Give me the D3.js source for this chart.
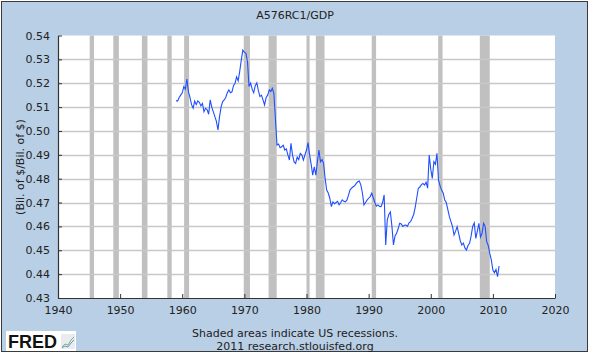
<!DOCTYPE html>
<html><head><meta charset="utf-8">
<script src="https://cdn.jsdelivr.net/npm/d3@7"></script>
<style>html,body{margin:0;padding:0;background:#fff;}svg{display:block;font-family:"DejaVu Sans",Verdana,sans-serif;}</style>
</head><body>
<svg id="c" width="590" height="357"></svg>
<script>
const title = "A576RC1/GDP";
const yLabel = "(Bil. of $/Bil. of $)";
const yTicks = [0.43,0.44,0.45,0.46,0.47,0.48,0.49,0.50,0.51,0.52,0.53,0.54];
const xTicks = [1940,1950,1960,1970,1980,1990,2000,2010,2020];
const recessions = [[1945.1,1945.8],[1948.9,1949.8],[1953.5,1954.4],[1957.6,1958.3],[1960.3,1961.1],[1969.9,1970.9],[1973.9,1975.2],[1980.0,1980.5],[1981.5,1982.9],[1990.5,1991.2],[2001.2,2001.9],[2007.9,2009.5]];
const startYear = 1959;
const values = [
0.5127,0.5125,0.5140,0.5150,
0.5160,0.5186,0.5175,0.5217,
0.5164,0.5140,0.5110,0.5095,
0.5125,0.5110,0.5126,0.5120,
0.5105,0.5115,0.5081,0.5095,
0.5090,0.5070,0.5130,0.5100,
0.5080,0.5060,0.5040,0.5004,
0.5060,0.5100,0.5123,0.5130,
0.5140,0.5160,0.5172,0.5160,
0.5164,0.5190,0.5200,0.5227,
0.5210,0.5250,0.5297,0.5339,
0.5330,0.5325,0.5290,0.5186,
0.5200,0.5175,0.5160,0.5190,
0.5202,0.5170,0.5144,0.5150,
0.5130,0.5109,0.5140,0.5150,
0.5172,0.5165,0.5179,0.5158,
0.5050,0.4941,0.4945,0.4930,
0.4934,0.4940,0.4920,0.4925,
0.4900,0.4878,0.4948,0.4900,
0.4870,0.4864,0.4890,0.4880,
0.4906,0.4899,0.4878,0.4900,
0.4920,0.4951,0.4900,0.4860,
0.4815,0.4850,0.4815,0.4870,
0.4920,0.4871,0.4880,0.4864,
0.4800,0.4752,0.4740,0.4718,
0.4683,0.4703,0.4695,0.4700,
0.4705,0.4690,0.4700,0.4711,
0.4705,0.4703,0.4710,0.4730,
0.4752,0.4760,0.4766,0.4770,
0.4780,0.4787,0.4790,0.4773,
0.4740,0.4690,0.4700,0.4710,
0.4718,0.4725,0.4739,0.4720,
0.4700,0.4685,0.4690,0.4684,
0.4683,0.4700,0.4732,0.4522,
0.4627,0.4650,0.4661,0.4600,
0.4522,0.4560,0.4571,0.4590,
0.4613,0.4610,0.4600,0.4605,
0.4606,0.4600,0.4615,0.4620,
0.4634,0.4650,0.4680,0.4720,
0.4760,0.4765,0.4775,0.4780,
0.4773,0.4785,0.4760,0.4899,
0.4840,0.4801,0.4871,0.4860,
0.4906,0.4794,0.4770,0.4752,
0.4740,0.4711,0.4700,0.4670,
0.4641,0.4620,0.4600,0.4564,
0.4580,0.4599,0.4570,0.4540,
0.4522,0.4530,0.4510,0.4501,
0.4520,0.4529,0.4560,0.4600,
0.4615,0.4550,0.4580,0.4613,
0.4555,0.4570,0.4613,0.4600,
0.4536,0.4520,0.4487,0.4460,
0.4417,0.4406,0.4420,0.4389,
0.4434
];
const data = values.map((v,i)=>({t:startYear+i/4, v}));

const svg = d3.select("#c");
const W=590,H=357;
svg.append("rect").attr("x",1.5).attr("y",1.5).attr("width",586).attr("height",350)
  .attr("fill","#b9cfe6").attr("stroke","#3a3a3a").attr("stroke-width",1);

const L=58,R=555,T=35.5,B=298;
const x = d3.scaleLinear().domain([1940,2020]).range([L,R]);
const y = d3.scaleLinear().domain([0.43,0.54]).range([B,T]);

svg.append("rect").attr("x",L).attr("y",T).attr("width",R-L).attr("height",B-T).attr("fill","#fff");

// recessions
svg.append("g").selectAll("rect").data(recessions).join("rect")
  .attr("x",d=>x(d[0])).attr("y",T).attr("width",d=>x(d[1])-x(d[0])).attr("height",B-T)
  .attr("fill","#c0c0c0");

// grid
svg.append("g").selectAll("line").data(yTicks.slice(1,-1)).join("line")
  .attr("x1",L).attr("x2",R).attr("y1",d=>Math.round(y(d))+0.5).attr("y2",d=>Math.round(y(d))+0.5)
  .attr("stroke","#c8c8c8").attr("stroke-width",1.5);

// line
svg.append("path").datum(data)
  .attr("d",d3.line().x(d=>x(d.t)).y(d=>y(d.v)))
  .attr("fill","none").attr("stroke","#1f4fff").attr("stroke-width",1.1);

// axes
const yAxis = svg.append("g").attr("transform",`translate(${L},0)`)
  .call(d3.axisLeft(y).tickValues(yTicks).tickFormat(d3.format(".2f")).tickSizeInner(-4).tickSizeOuter(0).tickPadding(8));
const xAxis = svg.append("g").attr("transform",`translate(0,${B})`)
  .call(d3.axisBottom(x).tickValues(xTicks).tickFormat(d3.format("d")).tickSizeInner(-4).tickSizeOuter(0).tickPadding(8));
[yAxis,xAxis].forEach(g=>{
  g.select(".domain").attr("stroke","#333").attr("stroke-width",1.2);
  g.selectAll(".tick line").attr("stroke","#333");
  g.selectAll("text").attr("fill","#222").style("font-size","11px").style("font-family","DejaVu Sans, sans-serif");
});

svg.append("text").attr("x",295).attr("y",19).attr("text-anchor","middle")
  .style("font-size","11px").attr("fill","#222").text(title);
svg.append("text").attr("transform","translate(24,167) rotate(-90)").attr("text-anchor","middle")
  .style("font-size","11px").attr("fill","#222").text(yLabel);

svg.append("text").attr("x",295).attr("y",337).attr("text-anchor","middle")
  .style("font-size","11px").attr("fill","#222").text("Shaded areas indicate US recessions.");
svg.append("text").attr("x",295).attr("y",350).attr("text-anchor","middle")
  .style("font-size","11px").attr("fill","#222").text("2011 research.stlouisfed.org");

// FRED logo
const lg = svg.append("g");
lg.append("rect").attr("x",6).attr("y",331).attr("width",70).attr("height",20).attr("fill","#fff");
lg.append("text").attr("x",8).attr("y",348).style("font-size","18px").style("font-weight","900")
  .style("font-family","Liberation Sans, Arial, sans-serif").attr("fill","#111").text("FRED");
lg.append("rect").attr("x",61).attr("y",334).attr("width",14).attr("height",15).attr("fill","#e8ecf0");
lg.append("path").attr("d","M62,347 L65,344 L68,345 L71,340 L74,337").attr("fill","none").attr("stroke","#7fb56a").attr("stroke-width",1);
lg.append("path").attr("d","M62,348 L65,346 L68,347 L71,343 L74,340").attr("fill","none").attr("stroke","#6a8fd0").attr("stroke-width",1);
</script>
</body></html>
